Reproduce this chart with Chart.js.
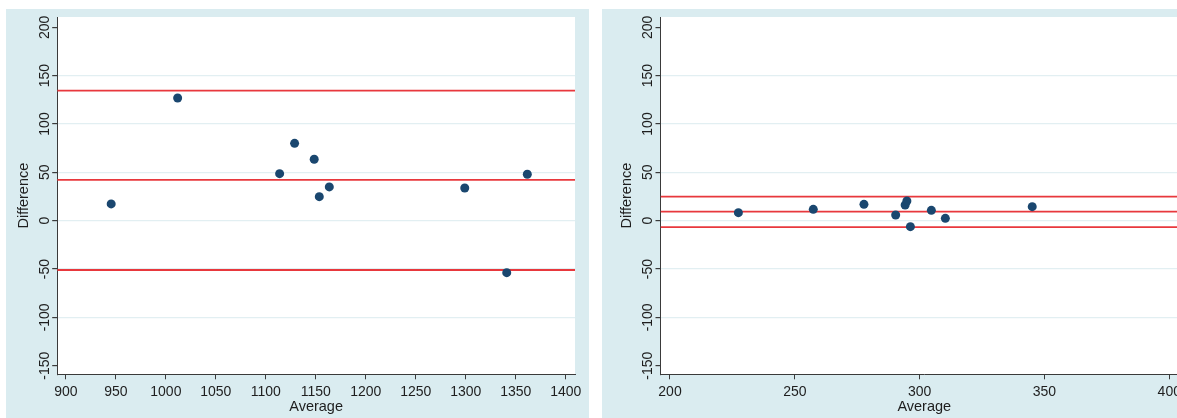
<!DOCTYPE html>
<html>
<head>
<meta charset="utf-8">
<script src="https://cdn.jsdelivr.net/npm/chart.js@4.4.1/dist/chart.umd.min.js"></script>
<style>
  html, body { margin: 0; padding: 0; background: #ffffff; width: 1177px; height: 418px; overflow: hidden; position: relative; }
  .panel { position: absolute; top: 9px; height: 409px; background: #daecf0; overflow: hidden; }
  #p1 { left: 6px; width: 583px; }
  #p2 { left: 602px; width: 600px; }
  canvas { display: block; }
</style>
</head>
<body>
<div class="panel" id="p1"><canvas id="c1" width="583" height="409"></canvas></div>
<div class="panel" id="p2"><canvas id="c2" width="600" height="409"></canvas></div>
<script>
// ---- data ----
const leftAverage    = [945.3, 1011.8, 1113.8, 1128.8, 1148.4, 1153.5, 1163.5, 1299.0, 1341.0, 1361.6];
const leftDifference = [17.3, 126.9, 48.6, 80.0, 63.5, 24.8, 34.9, 33.8, -53.8, 48.0];
const leftLimits     = [134.5, 42.1, -51.0];   // upper LoA, mean, lower LoA

const rightAverage    = [227.4, 257.4, 277.7, 290.4, 294.2, 294.9, 296.3, 304.7, 310.3, 345.1];
const rightDifference = [8.3, 11.7, 16.9, 5.9, 16.2, 20.4, -6.2, 10.7, 2.4, 14.5];
const rightLimits     = [24.9, 9.3, -6.6];

const leftXRange  = [891.3, 1409.3];
const rightXRange = [196.2, 407.5];
const yRange      = [-158.9, 210.65];
const yTickValues = [-150, -100, -50, 0, 50, 100, 150, 200];
const xTickStep   = 50;

const FONT = "'Liberation Sans', Arial, Helvetica, sans-serif";
const NAVY = '#1a476f';
const RED  = '#e8383d';
const AXIS = '#3a3a3a';
const GRID = '#e2eff2';

const whiteArea = {
  id: 'whiteArea',
  beforeDraw(chart) {
    const {ctx, chartArea: a} = chart;
    ctx.save();
    ctx.fillStyle = '#ffffff';
    ctx.fillRect(a.left, a.top, a.right - a.left, a.bottom - a.top);
    ctx.restore();
  }
};

function makeChart(id, xs, ys, limits, xRange, padLeft) {
  const pts = xs.map((x, i) => ({x: x, y: ys[i]}));
  const limitSets = limits.map(v => ({
    type: 'line',
    data: [{x: xRange[0], y: v}, {x: xRange[1], y: v}],
    borderColor: RED,
    borderWidth: 1.8,
    pointRadius: 0,
    showLine: true,
    fill: false
  }));
  return new Chart(document.getElementById(id), {
    type: 'scatter',
    data: {
      datasets: [{
        data: pts,
        backgroundColor: NAVY,
        borderColor: NAVY,
        pointRadius: 4.5,
        pointBorderWidth: 0,
        pointHoverRadius: 4.5
      }].concat(limitSets)
    },
    options: {
      responsive: false,
      animation: false,
      events: [],
      layout: { padding: { left: padLeft, right: 14, top: 8, bottom: 0 } },
      plugins: { legend: { display: false }, tooltip: { enabled: false } },
      scales: {
        x: {
          type: 'linear',
          min: xRange[0], max: xRange[1],
          afterFit(s) { s.height = 43.7; },
          border: { color: AXIS, width: 1 },
          grid: { drawOnChartArea: false, tickColor: AXIS, tickLength: 5 },
          ticks: {
            stepSize: xTickStep, includeBounds: false, autoSkip: false,
            maxRotation: 0, minRotation: 0, padding: 4.5,
            callback: v => String(v),
            color: '#1e1e1e', font: { family: FONT, size: 14 }
          },
          title: {
            display: true, text: 'Average', color: '#1e1e1e',
            font: { family: FONT, size: 14.5 }, padding: { top: 0, bottom: 2.5 }
          }
        },
        y: {
          type: 'linear',
          min: yRange[0], max: yRange[1],
          afterBuildTicks(s) { s.ticks = yTickValues.map(v => ({value: v})); },
          afterFit(s) { s.width = 51.2; },
          border: { color: AXIS, width: 1 },
          grid: {
            color: c => (c.tick && (c.tick.value === 200 || c.tick.value === -150)) ? 'rgba(0,0,0,0)' : GRID,
            lineWidth: 1.2,
            tickColor: AXIS, tickLength: 5
          },
          ticks: {
            autoSkip: false, minRotation: 90, maxRotation: 90,
            crossAlign: 'center', padding: -7,
            callback: v => String(v),
            color: '#1e1e1e', font: { family: FONT, size: 14 }
          },
          title: {
            display: true, text: 'Difference', color: '#1e1e1e',
            font: { family: FONT, size: 14.5 }, padding: { top: 9, bottom: 0 }
          }
        }
      }
    },
    plugins: [whiteArea]
  });
}

makeChart('c1', leftAverage, leftDifference, leftLimits, leftXRange, 0);
makeChart('c2', rightAverage, rightDifference, rightLimits, rightXRange, 7.3);
</script>
</body>
</html>
